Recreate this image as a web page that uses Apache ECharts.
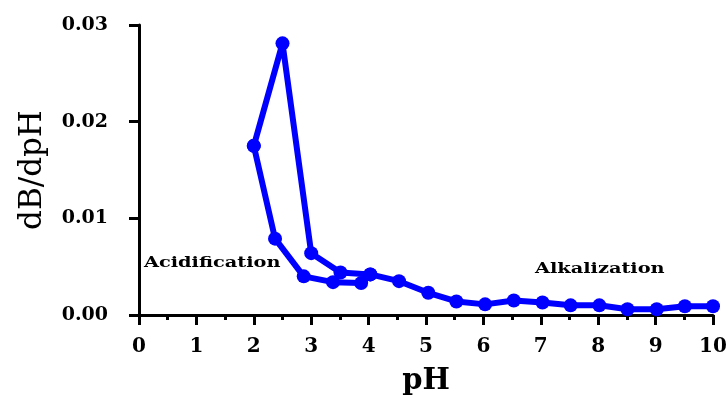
<!DOCTYPE html>
<html>
<head>
<meta charset="utf-8">
<script src="https://cdn.jsdelivr.net/npm/echarts@6/dist/echarts.min.js"></script>
<style>
  html, body { margin: 0; padding: 0; background: #fff; }
  #chart { width: 727px; height: 399px; }
</style>
</head>
<body>
<div id="chart"></div>
<script>
// 酸化段 (从初始 pH 往下走)
const acidPH = [4.03, 3.87, 3.38, 2.87, 2.37, 2.0];
const acidVal = [0.0042, 0.0033, 0.0034, 0.0040, 0.0079, 0.0175];
// 碱化段 (从 pH 2 一直走到 10)
const alkPH = [2.0, 2.5, 3.0, 3.51, 4.03, 4.53, 5.04, 5.53, 6.03, 6.53, 7.03, 7.52, 8.02, 8.51, 9.02, 9.51, 10.0];
const alkVal = [0.0175, 0.0281, 0.0064, 0.0044, 0.0042, 0.0035, 0.0023, 0.0014, 0.0011, 0.0015, 0.0013, 0.0010, 0.0010, 0.0006, 0.0006, 0.0009, 0.0009];

const serif = '"DejaVu Serif", "Liberation Serif", serif';
const blue = '#0000ff';

function pairs(xs, ys) {
    return xs.map(function(x, i) { return [x, ys[i]]; });
}

const chart = echarts.init(document.getElementById('chart'));

const lineSeries = function(name, data) {
    return {
        name: name,
        type: 'line',
        data: data,
        symbol: 'circle',
        symbolSize: 14,
        lineStyle: { color: blue, width: 6 },
        itemStyle: { color: blue },
        z: 3
    };
};

chart.setOption({
    animation: false,
    grid: { left: 139, right: 14, top: 25, bottom: 84, outerBoundsMode: 'none' },
    xAxis: {
        type: 'value',
        min: 0,
        max: 10,
        interval: 1,
        name: 'pH',
        nameLocation: 'middle',
        nameGap: 52,
        nameTextStyle: { fontFamily: serif, fontWeight: 'bold', fontSize: 29, color: '#000' },
        axisLine: { onZero: false, lineStyle: { color: '#000', width: 3 } },
        axisTick: { length: 10, lineStyle: { color: '#000', width: 3 } },
        minorTick: { show: true, splitNumber: 2, length: 5, lineStyle: { color: '#000', width: 3 } },
        axisLabel: { fontFamily: serif, fontWeight: 'bold', fontSize: 20, color: '#000', margin: 22 },
        splitLine: { show: false }
    },
    yAxis: {
        type: 'value',
        min: 0,
        max: 0.03,
        interval: 0.01,
        name: 'dB/dpH',
        nameLocation: 'middle',
        nameGap: 91,
        nameTextStyle: { fontFamily: serif, fontSize: 31, color: '#000' },
        axisLine: { show: true, lineStyle: { color: '#000', width: 3 } },
        axisTick: { show: true, length: 10, lineStyle: { color: '#000', width: 3 } },
        axisLabel: {
            fontFamily: serif, fontWeight: 'bold', fontSize: 19, color: '#000', margin: 31,
            formatter: function(v) { return v.toFixed(2); }
        },
        splitLine: { show: false }
    },
    series: [
        lineSeries('Acidification', pairs(acidPH, acidVal)),
        lineSeries('Alkalization', pairs(alkPH, alkVal))
    ],
    graphic: [
        {
            type: 'text', x: 144, y: 256, scaleX: 1.38, z: 10,
            style: { text: 'Acidification', font: 'bold 14px ' + serif, fill: '#000' }
        },
        {
            type: 'text', x: 535, y: 262, scaleX: 1.38, z: 10,
            style: { text: 'Alkalization', font: 'bold 14px ' + serif, fill: '#000' }
        }
    ]
});
</script>
</body>
</html>
